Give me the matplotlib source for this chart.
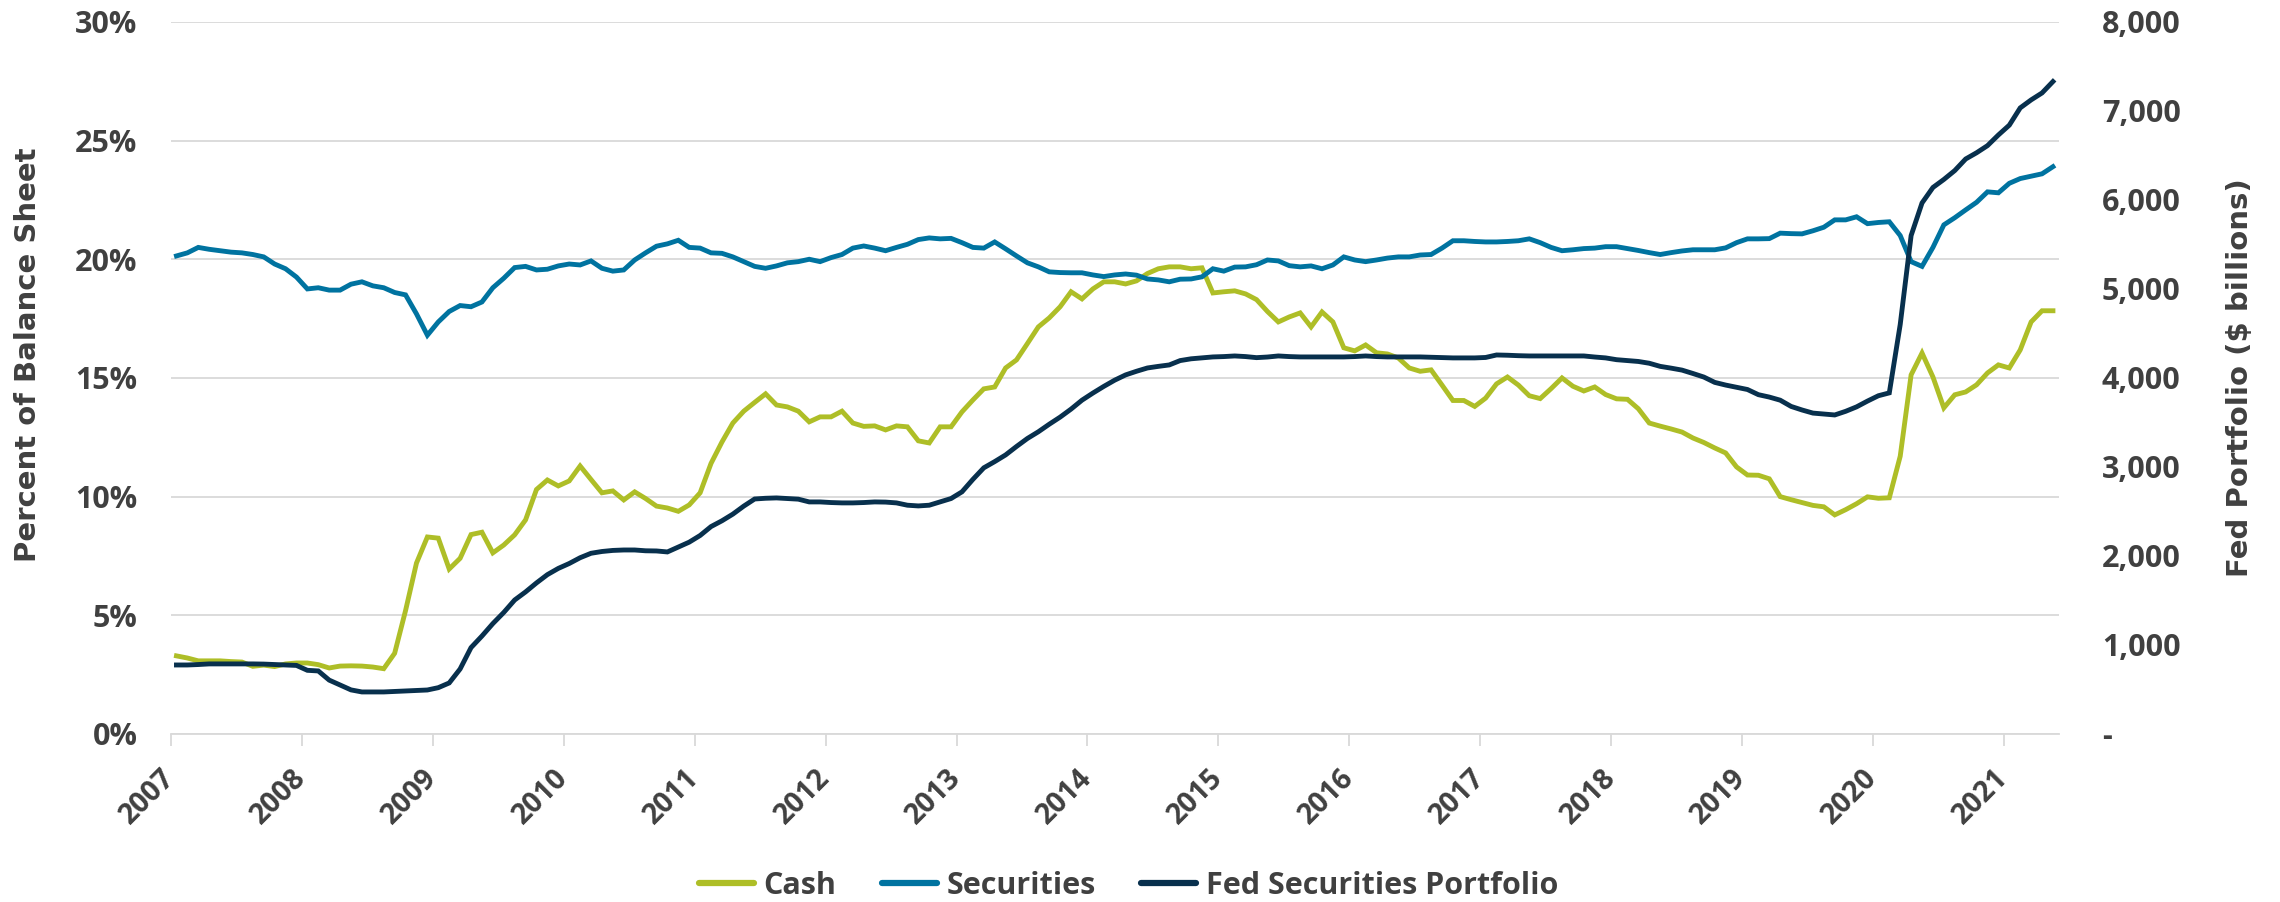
import matplotlib
matplotlib.use("Agg")
import matplotlib.pyplot as plt
import numpy as np
from matplotlib.ticker import FuncFormatter, MultipleLocator

plt.rcParams["font.family"] = ["Open Sans", "DejaVu Sans"]
plt.rcParams["font.weight"] = "bold"

# monthly values, Jan 2007 .. May 2021
cash = [
    3.29, 3.20, 3.08, 3.08, 3.08, 3.05, 3.03, 2.85, 2.90, 2.84, 2.95, 2.99,          # 2007
    2.99, 2.92, 2.78, 2.86, 2.87, 2.86, 2.82, 2.75, 3.40, 5.20, 7.20, 8.30,          # 2008
    8.25, 6.95, 7.40, 8.40, 8.50, 7.63, 7.96, 8.39, 9.02, 10.30, 10.70, 10.45,       # 2009
    10.66, 11.29, 10.72, 10.16, 10.24, 9.86, 10.20, 9.92, 9.60, 9.52, 9.38, 9.65,    # 2010
    10.16, 11.40, 12.30, 13.10, 13.60, 13.97, 14.33, 13.86, 13.78, 13.60, 13.15, 13.36,  # 2011
    13.36, 13.60, 13.10, 12.96, 12.98, 12.81, 12.98, 12.94, 12.35, 12.26, 12.94, 12.94,  # 2012
    13.57, 14.07, 14.54, 14.62, 15.42, 15.76, 16.45, 17.15, 17.53, 18.00, 18.63, 18.33,  # 2013
    18.75, 19.05, 19.05, 18.96, 19.09, 19.40, 19.60, 19.68, 19.68, 19.60, 19.64, 18.58,  # 2014
    18.63, 18.67, 18.54, 18.30, 17.80, 17.36, 17.57, 17.74, 17.15, 17.78, 17.36, 16.27,  # 2015
    16.14, 16.39, 16.06, 16.01, 15.84, 15.42, 15.28, 15.34, 14.70, 14.05, 14.05, 13.80,  # 2016
    14.15, 14.75, 15.04, 14.70, 14.25, 14.13, 14.55, 15.00, 14.65, 14.45, 14.62, 14.30,  # 2017
    14.12, 14.10, 13.70, 13.10, 12.97, 12.85, 12.72, 12.47, 12.28, 12.05, 11.84, 11.25,  # 2018
    10.91, 10.90, 10.75, 10.00, 9.87, 9.75, 9.63, 9.57, 9.23, 9.45, 9.70, 9.99,          # 2019
    9.93, 9.95, 11.70, 15.13, 16.05, 15.04, 13.74, 14.29, 14.41, 14.71, 15.21, 15.55,    # 2020
    15.42, 16.18, 17.36, 17.83, 17.83,                                                   # 2021
]

securities = [
    20.14, 20.27, 20.50, 20.42, 20.36, 20.30, 20.27, 20.20, 20.10, 19.80, 19.60, 19.25,  # 2007
    18.75, 18.80, 18.70, 18.70, 18.95, 19.05, 18.88, 18.80, 18.60, 18.50, 17.70, 16.80,  # 2008
    17.36, 17.80, 18.05, 18.00, 18.20, 18.80, 19.20, 19.65, 19.70, 19.55, 19.58, 19.72,  # 2009
    19.80, 19.76, 19.93, 19.62, 19.50, 19.55, 19.97, 20.27, 20.55, 20.65, 20.80, 20.50,  # 2010
    20.47, 20.27, 20.25, 20.10, 19.90, 19.70, 19.62, 19.72, 19.85, 19.90, 20.00, 19.90,  # 2011
    20.07, 20.20, 20.47, 20.56, 20.47, 20.36, 20.50, 20.63, 20.83, 20.90, 20.86, 20.88,  # 2012
    20.70, 20.50, 20.47, 20.73, 20.44, 20.14, 19.85, 19.68, 19.47, 19.44, 19.43, 19.43,  # 2013
    19.34, 19.27, 19.34, 19.38, 19.33, 19.17, 19.13, 19.05, 19.16, 19.17, 19.26, 19.60,  # 2014
    19.50, 19.67, 19.68, 19.77, 19.97, 19.93, 19.73, 19.68, 19.72, 19.60, 19.76, 20.10,  # 2015
    19.97, 19.90, 19.97, 20.05, 20.10, 20.10, 20.18, 20.20, 20.47, 20.78, 20.78, 20.75,  # 2016
    20.73, 20.73, 20.75, 20.78, 20.86, 20.70, 20.50, 20.36, 20.40, 20.45, 20.47, 20.53,  # 2017
    20.53, 20.45, 20.37, 20.28, 20.20, 20.28, 20.35, 20.40, 20.40, 20.40, 20.48, 20.70,  # 2018
    20.86, 20.86, 20.87, 21.10, 21.08, 21.07, 21.20, 21.35, 21.66, 21.66, 21.79, 21.50,  # 2019
    21.55, 21.58, 21.00, 19.90, 19.70, 20.50, 21.45, 21.75, 22.08, 22.40, 22.84, 22.80,  # 2020
    23.20, 23.40, 23.50, 23.60, 23.90,                                                   # 2021
]

fed_portfolio = [
    775, 775, 780, 787, 787, 787, 787, 787, 785, 780, 775, 770,                # 2007
    715, 708, 605, 550, 495, 472, 472, 472, 478, 483, 488, 494,                # 2008
    520, 573, 730, 970, 1100, 1240, 1365, 1505, 1596, 1697, 1790, 1860,        # 2009
    1915, 1980, 2030, 2050, 2062, 2067, 2067, 2058, 2056, 2045, 2100, 2155,    # 2010
    2230, 2330, 2395, 2470, 2560, 2640, 2648, 2652, 2645, 2638, 2607, 2607,    # 2011
    2600, 2596, 2596, 2600, 2607, 2605, 2596, 2570, 2562, 2570, 2607, 2645,    # 2012
    2720, 2860, 2990, 3060, 3135, 3230, 3320, 3395, 3480, 3560, 3650, 3750,    # 2013
    3830, 3905, 3975, 4034, 4075, 4112, 4130, 4146, 4195, 4215, 4225, 4236,    # 2014
    4240, 4247, 4240, 4228, 4235, 4247, 4240, 4236, 4236, 4236, 4236, 4236,    # 2015
    4240, 4247, 4240, 4236, 4236, 4236, 4236, 4232, 4228, 4225, 4225, 4225,    # 2016
    4230, 4258, 4255, 4250, 4247, 4247, 4247, 4247, 4247, 4247, 4235, 4225,    # 2017
    4205, 4195, 4185, 4165, 4130, 4110, 4088, 4050, 4010, 3950, 3920, 3895,    # 2018
    3870, 3812, 3785, 3750, 3680, 3640, 3605, 3595, 3584, 3625, 3675, 3740,    # 2019
    3800, 3832, 4600, 5600, 5966, 6140, 6230, 6330, 6460, 6530, 6610, 6730,    # 2020
    6840, 7034, 7124, 7202, 7330,                                              # 2021
]

years = list(range(2007, 2022))
labels = ["Cash", "Securities", "Fed Securities Portfolio"]

CASH_C = "#AEBE27"
SEC_C = "#0073A0"
FED_C = "#08304D"
TEXT_C = "#404040"
GRID_C = "#D9D9D9"

x = 2007 + (np.arange(len(cash)) + 0.5) / 12

fig = plt.figure(figsize=(22.8, 9.02), dpi=100)
ax = fig.add_axes([0.075, 0.1863, 0.828, 0.7894])
ax2 = ax.twinx()

l1, = ax.plot(x, cash, color=CASH_C, lw=3.5, solid_joinstyle="miter", label=labels[0])
l2, = ax.plot(x, securities, color=SEC_C, lw=3.5, solid_joinstyle="miter", label=labels[1])
l3, = ax2.plot(x, fed_portfolio, color=FED_C, lw=3.5, solid_joinstyle="miter", label=labels[2])

ax.set_xlim(2007, 2021.42)
ax.set_ylim(0, 30)
ax2.set_ylim(0, 8000)

ax.yaxis.set_major_locator(MultipleLocator(5))
ax.yaxis.set_major_formatter(FuncFormatter(lambda v, p: f"{v:.0f}%"))
ax2.yaxis.set_major_locator(MultipleLocator(1000))
ax2.yaxis.set_major_formatter(FuncFormatter(lambda v, p: "-" if v == 0 else f"{v:,.0f}"))

ax.set_xticks(years)
ax.set_xticklabels([str(y) for y in years], rotation=45, ha="right", va="center",
                   rotation_mode="anchor")

ax.grid(axis="y", color=GRID_C, lw=1.3)
ax.set_axisbelow(True)
for a in (ax, ax2):
    for side in ("top", "left", "right", "bottom"):
        a.spines[side].set_visible(False)
ax.spines["bottom"].set_visible(True)
ax.spines["bottom"].set_color(GRID_C)
ax.spines["bottom"].set_linewidth(1.3)

ax.tick_params(axis="y", length=0, pad=24, labelsize=22, labelcolor=TEXT_C)
ax2.tick_params(axis="y", length=0, pad=31, labelsize=22, labelcolor=TEXT_C)
ax.tick_params(axis="x", length=8.6, width=1.3, color=GRID_C, pad=20,
               labelsize=20.5, labelcolor=TEXT_C)
for t in ax.get_xticklabels() + ax.get_yticklabels() + ax2.get_yticklabels():
    t.set_fontweight("bold")

# axis titles use a wider bold face, as in the original
fig.text(28 / 2280, 1 - 355 / 902, "Percent of Balance Sheet", rotation=90,
         ha="center", va="center", fontsize=21, fontweight="bold", color=TEXT_C,
         family=["DejaVu Sans"])
fig.text(2240 / 2280, 1 - 378 / 902, "Fed Portfolio ($ billions)", rotation=90,
         ha="center", va="center", fontsize=21, fontweight="bold", color=TEXT_C,
         family=["DejaVu Sans"])

leg = fig.legend([l1, l2, l3], labels, loc="center", bbox_to_anchor=(0.495, 0.018),
                 ncol=3, frameon=False, fontsize=22, handlelength=1.8,
                 handletextpad=0.3, columnspacing=1.5)
for t in leg.get_texts():
    t.set_color(TEXT_C)
    t.set_fontweight("bold")
for h in leg.get_lines():
    h.set_linewidth(4.5)
    h.set_solid_capstyle("round")

fig.savefig("out.png", dpi=100)
